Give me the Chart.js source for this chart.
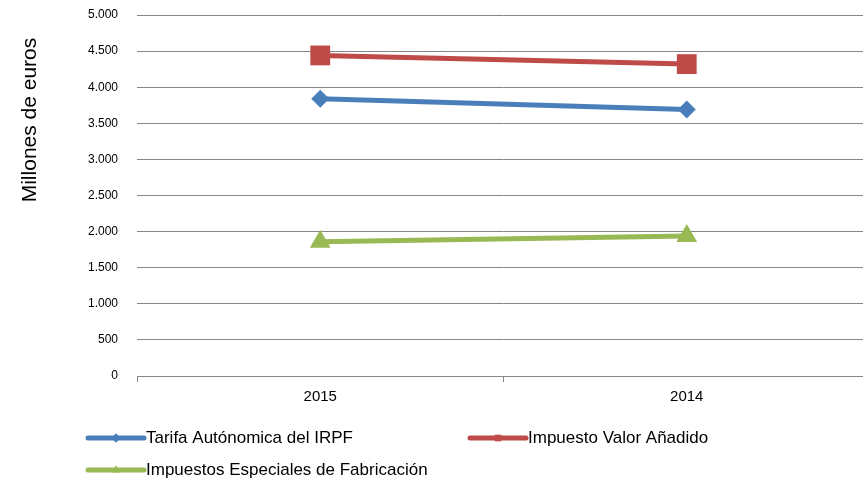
<!DOCTYPE html>
<html lang="es">
<head>
  <meta charset="UTF-8">
  <title>Millones de euros</title>
  <script src="https://cdn.jsdelivr.net/npm/chart.js"></script>
  <style>
    html, body { margin: 0; padding: 0; background: #fff; overflow: hidden; }
    .wrap { width: 863px; height: 488px; position: relative; overflow: hidden; }
  </style>
</head>
<body>
<!-- canvas a bit wider than the window: plot area runs past the right edge like the original -->
<div class="wrap"><canvas id="taxChart" width="870" height="488"></canvas></div>
<script>
  const years = ['2015', '2014'];
  const irpf = [3840, 3690];
  const iva = [4440, 4320];
  const especiales = [1860, 1940];
  const yTicks = [0, 500, 1000, 1500, 2000, 2500, 3000, 3500, 4000, 4500, 5000];

  const FONT = "'Liberation Sans', Arial, sans-serif";

  const series = [
    { label: 'Tarifa Autónomica del IRPF', data: irpf, color: '#4A7EBB', style: 'rectRot', r: 9 },
    { label: 'Impuesto Valor Añadido', data: iva, color: '#BE4B48', style: 'rect', r: 14 },
    { label: 'Impuestos Especiales de Fabricación', data: especiales, color: '#98B954', style: 'triangle', r: 12 }
  ];

  function fmt(v) {
    return String(v).replace(/\B(?=(\d{3})+(?!\d))/g, '.');
  }

  // Excel-like legend + rotated axis title
  const extras = {
    id: 'extras',
    afterDraw(chart) {
      const ctx = chart.ctx;
      ctx.save();
      ctx.fillStyle = '#000';
      ctx.font = '21px ' + FONT;
      ctx.translate(30, 120);
      ctx.rotate(-Math.PI / 2);
      ctx.textAlign = 'center';
      ctx.textBaseline = 'middle';
      ctx.fillText('Millones de euros', 0, 0);
      ctx.restore();

      const spots = [[88, 438], [470, 438], [88, 470]];
      series.forEach((s, i) => {
        const [x, y] = spots[i];
        ctx.save();
        ctx.strokeStyle = s.color;
        ctx.lineWidth = 5;
        ctx.lineCap = 'round';
        ctx.beginPath();
        ctx.moveTo(x, y);
        ctx.lineTo(x + 56, y);
        ctx.stroke();
        ctx.fillStyle = s.color;
        Chart.helpers.drawPoint(ctx, { pointStyle: s.style, radius: 4.5, rotation: 0, borderWidth: 0 }, x + 28, y);
        ctx.fill();
        ctx.fillStyle = '#000';
        ctx.font = '17px ' + FONT;
        ctx.textAlign = 'left';
        ctx.textBaseline = 'middle';
        ctx.fillText(s.label, x + 58, y);
        ctx.restore();
      });
    }
  };

  new Chart(document.getElementById('taxChart'), {
    type: 'line',
    data: {
      labels: years,
      datasets: series.map(s => ({
        label: s.label,
        data: s.data,
        borderColor: s.color,
        backgroundColor: s.color,
        borderWidth: 5,
        pointStyle: s.style,
        pointRadius: s.r,
        pointHoverRadius: s.r,
        pointBorderWidth: 0,
        tension: 0
      }))
    },
    options: {
      responsive: false,
      animation: false,
      layout: { autoPadding: false, padding: { top: 15, right: 0, left: 0, bottom: 0 } },
      plugins: { legend: { display: false }, tooltip: { enabled: false } },
      scales: {
        x: {
          offset: true,
          grid: { offset: true, drawOnChartArea: false, drawTicks: true, tickLength: 6, color: '#868686' },
          border: { display: true, color: '#868686', width: 1 },
          ticks: { color: '#000', font: { family: FONT, size: 15 }, padding: 6 },
          afterFit(scale) { scale.height = 112; scale.paddingLeft = 0; scale.paddingRight = 0; }
        },
        y: {
          min: 0,
          max: 5000,
          afterBuildTicks(scale) { scale.ticks = yTicks.map(v => ({ value: v })); },
          grid: { color: '#868686', drawTicks: false },
          border: { display: false },
          ticks: { color: '#000', font: { family: FONT, size: 12 }, padding: 19, callback: v => fmt(v) },
          afterFit(scale) { scale.width = 137; scale.paddingTop = 0; scale.paddingBottom = 0; }
        }
      }
    },
    plugins: [extras]
  });
</script>
</body>
</html>
